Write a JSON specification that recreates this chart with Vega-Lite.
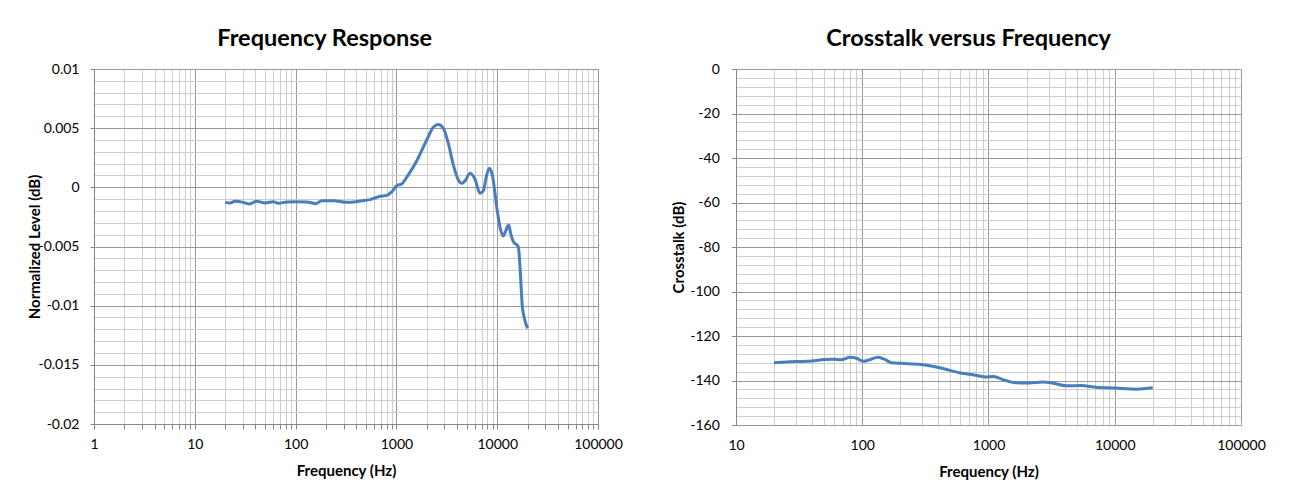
{
  "$schema": "https://vega.github.io/schema/vega-lite/v6.json",
  "background": "white",
  "padding": {"left": 27, "top": 26, "right": 5, "bottom": 5},
  "config": {
    "font": "Lato",
    "view": {"stroke": null},
    "axis": {
      "labelFont": "Lato", "labelFontSize": 14, "labelColor": "#000000",
      "titleFont": "Lato", "titleFontSize": 15, "titleFontWeight": "bold", "titleColor": "#000000",
      "domainColor": "#868686", "tickColor": "#868686",
      "labelOverlap": false, "labelFlush": false, "gridWidth": 1
    },
    "title": {"font": "Lato", "fontSize": 23.5, "fontWeight": "bold", "color": "#000000", "anchor": "middle", "frame": "bounds", "offset": 12},
    "concat": {"spacing": 48}
  },
  "datasets": {
    "response": [
      {"f": 20, "level": -0.00127}, {"f": 22.4, "level": -0.00132}, {"f": 25, "level": -0.00118},
      {"f": 30.3, "level": -0.00127}, {"f": 34.5, "level": -0.00141}, {"f": 41.1, "level": -0.00118},
      {"f": 49.7, "level": -0.00132}, {"f": 60.1, "level": -0.00121}, {"f": 67.4, "level": -0.00135},
      {"f": 81.5, "level": -0.00124}, {"f": 102.5, "level": -0.00121}, {"f": 128.8, "level": -0.00124},
      {"f": 159.4, "level": -0.00138}, {"f": 181.4, "level": -0.00113}, {"f": 236.8, "level": -0.00113},
      {"f": 321, "level": -0.00127}, {"f": 435.5, "level": -0.00116}, {"f": 547, "level": -0.00104},
      {"f": 687.6, "level": -0.00076}, {"f": 800.9, "level": -0.00068}, {"f": 897.5, "level": -0.00039},
      {"f": 1006, "level": 0.00014}, {"f": 1128, "level": 0.00028}, {"f": 1264, "level": 0.00085},
      {"f": 1589, "level": 0.00222}, {"f": 1997, "level": 0.0040}, {"f": 2325, "level": 0.00507},
      {"f": 2606, "level": 0.0053}, {"f": 2921, "level": 0.00499}, {"f": 3275, "level": 0.00372},
      {"f": 3671, "level": 0.00189}, {"f": 4116, "level": 0.00062}, {"f": 4441, "level": 0.00034},
      {"f": 4794, "level": 0.00054}, {"f": 5374, "level": 0.00118}, {"f": 6024, "level": 0.00068},
      {"f": 6752, "level": -0.00051}, {"f": 7286, "level": -0.00028}, {"f": 7862, "level": 0.00104},
      {"f": 8356, "level": 0.00161}, {"f": 9018, "level": 0.0009}, {"f": 9879, "level": -0.00163},
      {"f": 10824, "level": -0.00361}, {"f": 11502, "level": -0.00411}, {"f": 12228, "level": -0.00361},
      {"f": 12995, "level": -0.00318}, {"f": 13601, "level": -0.00389}, {"f": 14454, "level": -0.00459},
      {"f": 16209, "level": -0.00502}, {"f": 16837, "level": -0.0067}, {"f": 17760, "level": -0.01009},
      {"f": 18447, "level": -0.01093}, {"f": 20000, "level": -0.01192}
    ],
    "crosstalk": [
      {"f": 20, "crosstalk": -132.0}, {"f": 25, "crosstalk": -131.7}, {"f": 30, "crosstalk": -131.5},
      {"f": 40, "crosstalk": -131.2}, {"f": 50, "crosstalk": -130.6}, {"f": 60, "crosstalk": -130.4},
      {"f": 68, "crosstalk": -130.7}, {"f": 80, "crosstalk": -129.6}, {"f": 90, "crosstalk": -130.0},
      {"f": 102, "crosstalk": -131.4}, {"f": 115, "crosstalk": -130.6}, {"f": 132, "crosstalk": -129.5},
      {"f": 148, "crosstalk": -130.3}, {"f": 170, "crosstalk": -132.0}, {"f": 205, "crosstalk": -132.3},
      {"f": 290, "crosstalk": -132.8}, {"f": 420, "crosstalk": -134.4}, {"f": 600, "crosstalk": -136.6},
      {"f": 790, "crosstalk": -137.6}, {"f": 950, "crosstalk": -138.4}, {"f": 1100, "crosstalk": -138.2},
      {"f": 1300, "crosstalk": -139.6}, {"f": 1650, "crosstalk": -141.0}, {"f": 2100, "crosstalk": -141.1},
      {"f": 2700, "crosstalk": -140.7}, {"f": 3200, "crosstalk": -141.1}, {"f": 4100, "crosstalk": -142.4},
      {"f": 5400, "crosstalk": -142.3}, {"f": 7100, "crosstalk": -143.0}, {"f": 10000, "crosstalk": -143.4},
      {"f": 14900, "crosstalk": -143.9}, {"f": 20000, "crosstalk": -143.3}
    ]
  },
  "hconcat": [
    {
      "title": "Frequency Response",
      "width": 504,
      "height": 355,
      "data": {"name": "response"},
      "mark": {"type": "line", "color": "#4a7ebb", "strokeWidth": 3, "interpolate": "monotone"},
      "encoding": {
        "x": {
          "field": "f", "type": "quantitative",
          "scale": {"type": "log", "domain": [1, 100000], "nice": false},
          "axis": {
            "title": "Frequency (Hz)",
            "values": [1,2,3,4,5,6,7,8,9,10,20,30,40,50,60,70,80,90,100,200,300,400,500,600,700,800,900,1000,2000,3000,4000,5000,6000,7000,8000,9000,10000,20000,30000,40000,50000,60000,70000,80000,90000,100000],
            "labelExpr": "indexof([1,10,100,1000,10000,100000], datum.value) >= 0 ? '' + datum.value : ''",
            "gridColor": {"condition": {"test": "indexof([1,10,100,1000,10000,100000], datum.value) >= 0", "value": "#999999"}, "value": "#cdcdcd"},
            "tickSize": 5, "labelPadding": 8, "titlePadding": 12
          }
        },
        "y": {
          "field": "level", "type": "quantitative",
          "scale": {"domain": [-0.02, 0.01], "nice": false, "zero": false},
          "axis": {
            "title": "Normalized Level (dB)",
            "values": [-0.02,-0.019,-0.018,-0.017,-0.016,-0.015,-0.014,-0.013,-0.012,-0.011,-0.01,-0.009,-0.008,-0.007,-0.006,-0.005,-0.004,-0.003,-0.002,-0.001,0,0.001,0.002,0.003,0.004,0.005,0.006,0.007,0.008,0.009,0.01],
            "labelExpr": "indexof([-0.02,-0.015,-0.01,-0.005,0,0.005,0.01], datum.value) >= 0 ? '' + datum.value : ''",
            "gridColor": {"condition": {"test": "indexof([-0.02,-0.015,-0.01,-0.005,0,0.005,0.01], datum.value) >= 0", "value": "#999999"}, "value": "#cdcdcd"},
            "tickOpacity": {"condition": {"test": "indexof([-0.02,-0.015,-0.01,-0.005,0,0.005,0.01], datum.value) >= 0", "value": 1}, "value": 0},
            "tickSize": 4, "labelPadding": 11, "titlePadding": -4
          }
        }
      }
    },
    {
      "title": "Crosstalk versus Frequency",
      "width": 505,
      "height": 356,
      "data": {"name": "crosstalk"},
      "mark": {"type": "line", "color": "#4a7ebb", "strokeWidth": 3, "interpolate": "monotone"},
      "encoding": {
        "x": {
          "field": "f", "type": "quantitative",
          "scale": {"type": "log", "domain": [10, 100000], "nice": false},
          "axis": {
            "title": "Frequency (Hz)",
            "values": [10,20,30,40,50,60,70,80,90,100,200,300,400,500,600,700,800,900,1000,2000,3000,4000,5000,6000,7000,8000,9000,10000,20000,30000,40000,50000,60000,70000,80000,90000,100000],
            "labelExpr": "indexof([10,100,1000,10000,100000], datum.value) >= 0 ? '' + datum.value : ''",
            "gridColor": {"condition": {"test": "indexof([10,100,1000,10000,100000], datum.value) >= 0", "value": "#999999"}, "value": "#cdcdcd"},
            "tickOpacity": 0, "domain": false,
            "tickSize": 5, "labelPadding": 8, "titlePadding": 12
          }
        },
        "y": {
          "field": "crosstalk", "type": "quantitative",
          "scale": {"domain": [-160, 0], "nice": false, "zero": false},
          "axis": {
            "title": "Crosstalk (dB)",
            "values": [-160,-156,-152,-148,-144,-140,-136,-132,-128,-124,-120,-116,-112,-108,-104,-100,-96,-92,-88,-84,-80,-76,-72,-68,-64,-60,-56,-52,-48,-44,-40,-36,-32,-28,-24,-20,-16,-12,-8,-4,0],
            "labelExpr": "datum.value % 20 == 0 ? '' + datum.value : ''",
            "gridColor": {"condition": {"test": "datum.value % 20 == 0", "value": "#999999"}, "value": "#cdcdcd"},
            "tickOpacity": {"condition": {"test": "datum.value % 20 == 0", "value": 1}, "value": 0},
            "tickSize": 4.7, "labelPadding": 12, "titlePadding": 3
          }
        }
      }
    }
  ]
}
